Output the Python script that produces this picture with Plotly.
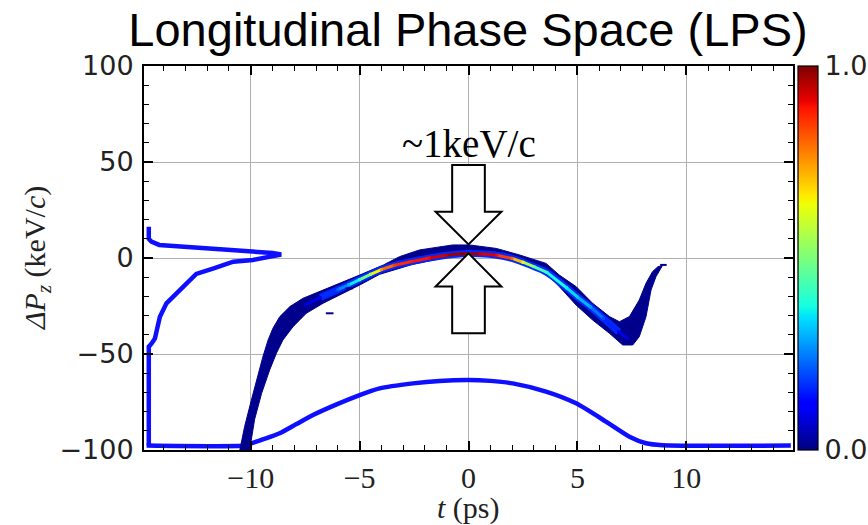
import plotly.graph_objects as go

# ---------------- data ----------------
# LPS band outline: upper edge (left->right) then lower edge (right->left)
band_t = [-10.5, -10.28, -9.97, -9.74, -9.44, -9.2, -8.98, -8.67, -8.2, -7.6, -6.83, -5.92, -5.0,
          -3.9, -3.17, -2.25, -0.73, 0.05, 1.27, 2.34, 3.56, 4.17, 4.94, 5.7, 6.47, 6.93, 7.39,
          7.84, 8.15, 8.45, 8.7, 8.9,
          8.61, 8.38, 8.15, 7.84, 7.54, 7.08, 6.47, 5.7, 4.94, 4.17, 3.56, 2.34, 1.27, 0.05,
          -1.02, -2.56, -3.62, -4.08, -5.0, -5.92, -6.68, -7.45, -8.06, -8.52, -8.82, -9.13,
          -9.5, -9.82, -10.05]
band_dp = [-100, -87.8, -74, -63.5, -51.4, -42.7, -36.6, -30.6, -25.3, -21.0, -17.5, -13.2, -8.9,
           -3.6, 0.7, 4.2, 6.8, 6.8, 5.0, 1.6, -2.8, -8.9, -14.9, -23.6, -30.5, -33.2, -30.5,
           -21.9, -13.2, -7.1, -4.5, -4.0,
           -9.7, -16.7, -30.6, -41.0, -45.3, -45.3, -39.2, -32.3, -24.5, -14.9, -8.0, -1.9, 0.7, 1.0,
           0.3, -3.3, -7.1, -8.5, -14.1, -19.3, -23.6, -28.8, -35.8, -42.7, -49.6, -58.3,
           -70.5, -84.0, -100]

# dense core of the beam: position and normalised density
core_t = [-7.5, -6.8, -6.0, -5.5, -5.0, -4.5, -4.0, -3.4, -2.6, -1.8, -1.0, -0.3, 0.5, 1.3,
          2.0, 2.5, 3.0, 3.6, 4.5, 5.0, 5.6, 6.2, 6.9, 7.3]
core_dp = [-24.5, -20.5, -16.5, -14.0, -11.3, -8.5, -6.0, -3.8, -1.8, 0.0, 1.4, 2.2, 2.2, 1.4,
           -0.2, -2.2, -4.5, -7.5, -15.5, -20.3, -25.5, -31.5, -38.5, -42.0]
core_density = [0.06, 0.12, 0.22, 0.30, 0.42, 0.55, 0.75, 0.85, 0.88, 0.90, 0.95, 1.0, 0.95, 0.90,
                0.80, 0.62, 0.48, 0.40, 0.36, 0.33, 0.28, 0.20, 0.12, 0.07]

# isolated macro-particles (short dashes)
stray_t0 = [-6.55, -5.65, 8.8]
stray_t1 = [-6.2, -5.3, 9.1]
stray_dp = [-28.8, -15.8, -3.6]

# current profile projection (bottom curve)
cur_t = [-14.78, -10.3, -9.97, -9.3, -8.67, -7.9, -7.14, -6.0, -5.0, -4.08, -2.55, -1.33, 0.0,
         1.0, 2.03, 3.56, 4.94, 6.31, 7.39, 8.15, 8.9, 14.8]
cur_dp = [-97.7, -97.7, -96.5, -94, -91.3, -86.5, -81.8, -76, -71.4, -67.9, -65.3, -64.0, -63.5,
          -64.0, -65.3, -69.6, -75.7, -85.2, -93.1, -96.5, -97.5, -97.7]

# momentum projection (left curve)
mom_t = [-14.68, -14.68, -14.55, -14.4, -14.3, -14.17, -13.87, -13.4, -12.95, -12.5, -11.7,
         -10.8, -9.9, -9.0, -8.6, -9.0, -9.9, -12.3, -14.2, -14.56, -14.68, -14.68]
mom_dp = [-97.7, -46.2, -44.5, -42, -37, -30.6, -23.6, -18.4, -13.2, -8.3, -5.4,
          -1.9, -1.0, 0.8, 1.8, 2.6, 3.3, 5.0, 6.8, 8.5, 10.0, 16.3]

x_ticks = [-10, -5, 0, 5, 10]
x_ticklabels = ["\u221210", "\u22125", "0", "5", "10"]
y_ticks = [-100, -50, 0, 50, 100]
y_ticklabels = ["\u2212100", "\u221250", "0", "50", "100"]
cbar_ticks = [0, 1.0]
cbar_ticklabels = ["0.0", "1.0"]
cbar_inner_ticks = [0.25, 0.5, 0.75]

# ---------------- style ----------------
JET = [[0.0, "rgb(0,0,128)"], [0.11, "rgb(0,0,255)"], [0.125, "rgb(0,0,255)"],
       [0.34, "rgb(0,219,255)"], [0.35, "rgb(0,230,247)"], [0.375, "rgb(21,255,226)"],
       [0.64, "rgb(239,255,8)"], [0.65, "rgb(247,245,0)"], [0.66, "rgb(255,236,0)"],
       [0.89, "rgb(255,19,0)"], [0.91, "rgb(232,0,0)"], [1.0, "rgb(128,0,0)"]]


def jet_color(v):
    v = max(0.0, min(1.0, v))
    for (a, ca), (b, cb) in zip(JET[:-1], JET[1:]):
        if a <= v <= b:
            f = 0 if b == a else (v - a) / (b - a)
            pa = [int(s) for s in ca[4:-1].split(",")]
            pb = [int(s) for s in cb[4:-1].split(",")]
            p = [round(pa[i] + f * (pb[i] - pa[i])) for i in range(3)]
            return "rgb(%d,%d,%d)" % tuple(p)
    return JET[-1][1]


NAVY = "rgb(0,0,140)"
PROJ = "rgb(15,15,255)"
SERIF = "Liberation Serif"
SANS = "DejaVu Sans"

# plot-area geometry (pixels)
L, R, T, B = 144, 793, 66, 450
W, H = R - L, B - T
CB_X0, CB_X1 = 798, 818

fig = go.Figure()

fig.add_trace(go.Scatter(x=cur_t, y=cur_dp, mode="lines",
                         line=dict(color=PROJ, width=4.5, shape="spline", smoothing=0.6),
                         hoverinfo="skip", showlegend=False))
fig.add_trace(go.Scatter(x=mom_t, y=mom_dp, mode="lines",
                         line=dict(color=PROJ, width=4.5), hoverinfo="skip", showlegend=False))

fig.add_trace(go.Scatter(x=band_t + [band_t[0]], y=band_dp + [band_dp[0]], mode="lines",
                         fill="toself", fillcolor=NAVY, line=dict(color=NAVY, width=1),
                         hoverinfo="skip", showlegend=False))

fig.add_trace(go.Scatter(x=core_t[1:-1], y=core_dp[1:-1], mode="lines",
                         line=dict(color="rgb(0,40,255)", width=7, shape="spline"),
                         hoverinfo="skip", showlegend=False))

for i in range(len(core_t) - 1):
    v = 0.5 * (core_density[i] + core_density[i + 1])
    fig.add_trace(go.Scatter(x=core_t[i:i + 2], y=core_dp[i:i + 2], mode="lines",
                             line=dict(color=jet_color(v), width=3),
                             hoverinfo="skip", showlegend=False))

fig.add_trace(go.Scatter(
    x=core_t, y=core_dp, mode="markers",
    marker=dict(size=3, symbol="square", color=core_density, colorscale=JET, cmin=0, cmax=1,
                line=dict(width=0),
                colorbar=dict(x=(CB_X0 - L) / W, xanchor="left", xpad=0, ypad=0,
                              y=0.5, yanchor="middle", len=1.0, lenmode="fraction",
                              thickness=CB_X1 - CB_X0, outlinewidth=1.2, outlinecolor="black",
                              tickvals=cbar_ticks, ticktext=cbar_ticklabels,
                              ticks="",
                              tickfont=dict(family=SANS, size=27, color="#222"))),
    hoverinfo="skip", showlegend=False))

sx, sy = [], []
for a, b, d in zip(stray_t0, stray_t1, stray_dp):
    sx += [a, b, None]
    sy += [d, d, None]
fig.add_trace(go.Scatter(x=sx, y=sy, mode="lines", line=dict(color=NAVY, width=2),
                         hoverinfo="skip", showlegend=False))

# colour-bar inner ticks (pointing inwards from the right edge)
for v in cbar_inner_ticks:
    fig.add_shape(type="line", xref="paper", yref="paper",
                  x0=(CB_X1 - L) / W, x1=(CB_X1 - 7 - L) / W, y0=v, y1=v,
                  line=dict(color="black", width=1.5), layer="above")

# ---------------- block arrows (annotation, data coordinates) ----------------
SHAFT_HW, HEAD_HW = 0.75, 1.51
top_arrow = dict(tail=48.4, base=24.1, tip=7.1)
bot_arrow = dict(tail=-39.2, base=-14.9, tip=2.4)


def arrow_path(a):
    pts = [(-SHAFT_HW, a["tail"]), (SHAFT_HW, a["tail"]), (SHAFT_HW, a["base"]),
           (HEAD_HW, a["base"]), (0, a["tip"]), (-HEAD_HW, a["base"]), (-SHAFT_HW, a["base"])]
    return "M " + " L ".join("%g,%g" % p for p in pts) + " Z"


for a in (top_arrow, bot_arrow):
    fig.add_shape(type="path", path=arrow_path(a), xref="x", yref="y",
                  fillcolor="white", line=dict(color="black", width=2), layer="above")

fig.add_annotation(x=0, y=48.4, xref="x", yref="y", text="~1keV/c", showarrow=False,
                   xanchor="center", yanchor="bottom", yshift=-2,
                   font=dict(family=SERIF, size=39, color="black"))

fig.add_annotation(x=(37 - L) / W, y=0.5, xref="paper", yref="paper", textangle=-90,
                   xanchor="center", yanchor="middle",
                   text="<i>\u0394P<sub>z</sub></i> (keV/<i>c</i>)", showarrow=False,
                   font=dict(family=SERIF, size=30, color="#222"))
fig.add_annotation(x=(468 - L) / W, y=-(508 - B) / H, xref="paper", yref="paper",
                   xanchor="center", yanchor="middle",
                   text="<i>t</i> (ps)", showarrow=False,
                   font=dict(family=SERIF, size=30, color="#222"))

axis_common = dict(showline=True, linewidth=2, linecolor="black", mirror="ticks",
                   ticks="inside", ticklen=9, tickwidth=1.5, tickcolor="black",
                   showgrid=True, gridcolor="#b0b0b0", gridwidth=1.3, zeroline=False)

fig.update_xaxes(range=[-14.9, 14.9], tickvals=x_ticks, ticktext=x_ticklabels,
                 tickfont=dict(family=SERIF, size=30, color="#222"), ticklabelstandoff=0,
                 minor=dict(dtick=1, tick0=0, ticks="inside", ticklen=5, tickwidth=1.2,
                            tickcolor="black", showgrid=False),
                 **axis_common)
fig.update_yaxes(range=[-100, 100], tickvals=y_ticks, ticktext=y_ticklabels,
                 tickfont=dict(family=SANS, size=27, color="#222"), ticklabelstandoff=3,
                 minor=dict(dtick=10, tick0=0, ticks="inside", ticklen=5, tickwidth=1.2,
                            tickcolor="black", showgrid=False),
                 **axis_common)

fig.update_layout(
    width=868, height=525,
    margin=dict(l=L, r=868 - R, t=T, b=525 - B, autoexpand=False),
    paper_bgcolor="white", plot_bgcolor="white",
    title=dict(text="Longitudinal Phase Space (LPS)", x=468 / 868, xanchor="center",
               y=1 - 30 / 525, yanchor="middle", yref="container",
               font=dict(family="Liberation Sans", size=47, color="black")),
)

fig.write_html("out.html", config={"displayModeBar": False},
               post_script="document.body.style.margin='0px';document.body.style.padding='0px';")
